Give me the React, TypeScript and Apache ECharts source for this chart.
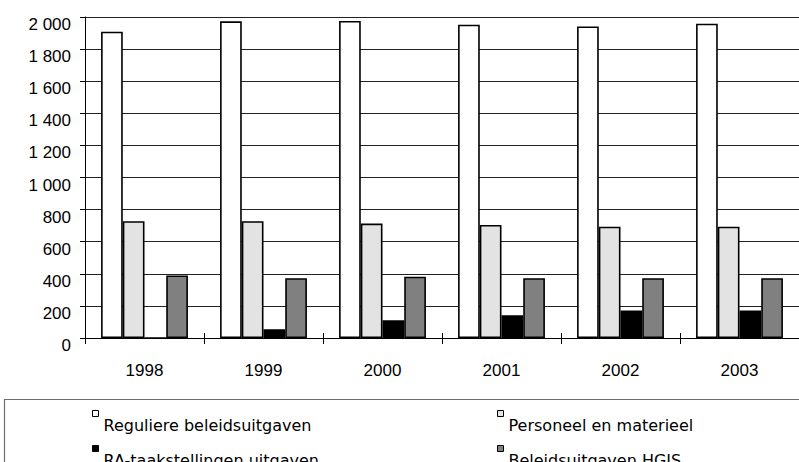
import React, { useEffect, useRef } from "react";
import * as echarts from "echarts";

const categories = ["1998", "1999", "2000", "2001", "2002", "2003"];
const reguliere = [1908, 1973, 1975, 1952, 1941, 1958];
const personeel = [728, 728, 713, 704, 693, 693];
const raTaak = [0, 55, 111, 142, 172, 172];
const hgis = [390, 373, 382, 373, 373, 373];

const seriesNames = [
  "Reguliere beleidsuitgaven",
  "Personeel en materieel",
  "RA-taakstellingen uitgaven",
  "Beleidsuitgaven HGIS",
];

function fmt(v: number): string {
  if (v >= 1000) {
    const th = Math.floor(v / 1000);
    const rest = String(v % 1000).padStart(3, "0");
    return th + " " + rest;
  }
  return String(v);
}

export default function App() {
  const ref = useRef<HTMLDivElement>(null);
  useEffect(() => {
    document.body.style.margin = "0";
    if (!ref.current) return;
    const chart = echarts.init(ref.current, undefined, { renderer: "svg" });
    const font = "'Liberation Sans', Arial, sans-serif";
    const legendText = {
      fontFamily: "'DejaVu Sans', sans-serif",
      fontSize: 16,
      color: "#000",
      rich: {
        a: {
          fontFamily: "'DejaVu Sans', sans-serif",
          fontSize: 16,
          color: "#000",
          padding: [24, 0, 0, 0],
        },
      },
    };
    const barStyle = (color: string) => ({
      color,
      borderColor: "#000",
      borderWidth: 1.6,
    });
    const legendItem = (name: string, left: number, top: number) => ({
      data: [name],
      orient: "horizontal",
      left,
      top,
      padding: 0,
      itemGap: 0,
      itemWidth: 6,
      itemHeight: 6,
      icon: "rect",
      selectedMode: false,
      formatter: "{a|{name}}",
      itemStyle: { borderColor: "#000", borderWidth: 1 },
      textStyle: legendText,
    });
    chart.setOption({
      animation: false,
      backgroundColor: "#fff",
      grid: { left: 85, top: 17, width: 718, height: 321 },
      xAxis: [
        {
          type: "category",
          data: categories,
          axisLine: { show: true, lineStyle: { color: "#000", width: 1 } },
          axisTick: { show: true, length: 6, lineStyle: { color: "#000" } },
          axisLabel: { color: "#000", fontFamily: font, fontSize: 17, margin: 24 },
        },
        {
          type: "category",
          data: categories,
          position: "bottom",
          axisLine: { show: false },
          axisTick: { show: true, inside: true, length: 5, lineStyle: { color: "#000" } },
          axisLabel: { show: false },
          splitLine: { show: false },
        },
      ],
      yAxis: {
        type: "value",
        min: 0,
        max: 2000,
        interval: 200,
        axisLine: { show: true, lineStyle: { color: "#000", width: 1 } },
        axisTick: { show: true, length: 5, lineStyle: { color: "#000" } },
        axisLabel: {
          color: "#000",
          fontFamily: font,
          fontSize: 17,
          margin: 14,
          verticalAlign: "top",
          lineHeight: 15,
          formatter: (v: number) => fmt(v),
        },
        splitLine: { show: true, lineStyle: { color: "#222", width: 1 } },
      },
      legend: [
        legendItem(seriesNames[0], 92, 410),
        legendItem(seriesNames[2], 92, 445),
        legendItem(seriesNames[1], 497, 410),
        legendItem(seriesNames[3], 497, 445),
      ],
      graphic: [
        {
          type: "rect",
          shape: { x: 4.5, y: 399.5, width: 900, height: 200 },
          style: { fill: "none", stroke: "#6f6f6f", lineWidth: 1.2 },
          silent: true,
          z: -1,
        },
      ],
      series: [
        {
          name: seriesNames[0],
          type: "bar",
          data: reguliere,
          barGap: "0%",
          barCategoryGap: "27%",
          itemStyle: barStyle("#ffffff"),
        },
        {
          name: seriesNames[1],
          type: "bar",
          data: personeel,
          barGap: "0%",
          barCategoryGap: "27%",
          itemStyle: barStyle("#e3e3e3"),
        },
        {
          name: seriesNames[2],
          type: "bar",
          data: raTaak,
          barGap: "0%",
          barCategoryGap: "27%",
          itemStyle: barStyle("#000000"),
        },
        {
          name: seriesNames[3],
          type: "bar",
          data: hgis,
          barGap: "0%",
          barCategoryGap: "27%",
          itemStyle: barStyle("#808080"),
        },
      ],
    });
    return () => chart.dispose();
  }, []);
  return <div ref={ref} style={{ width: 799, height: 462 }} />;
}
